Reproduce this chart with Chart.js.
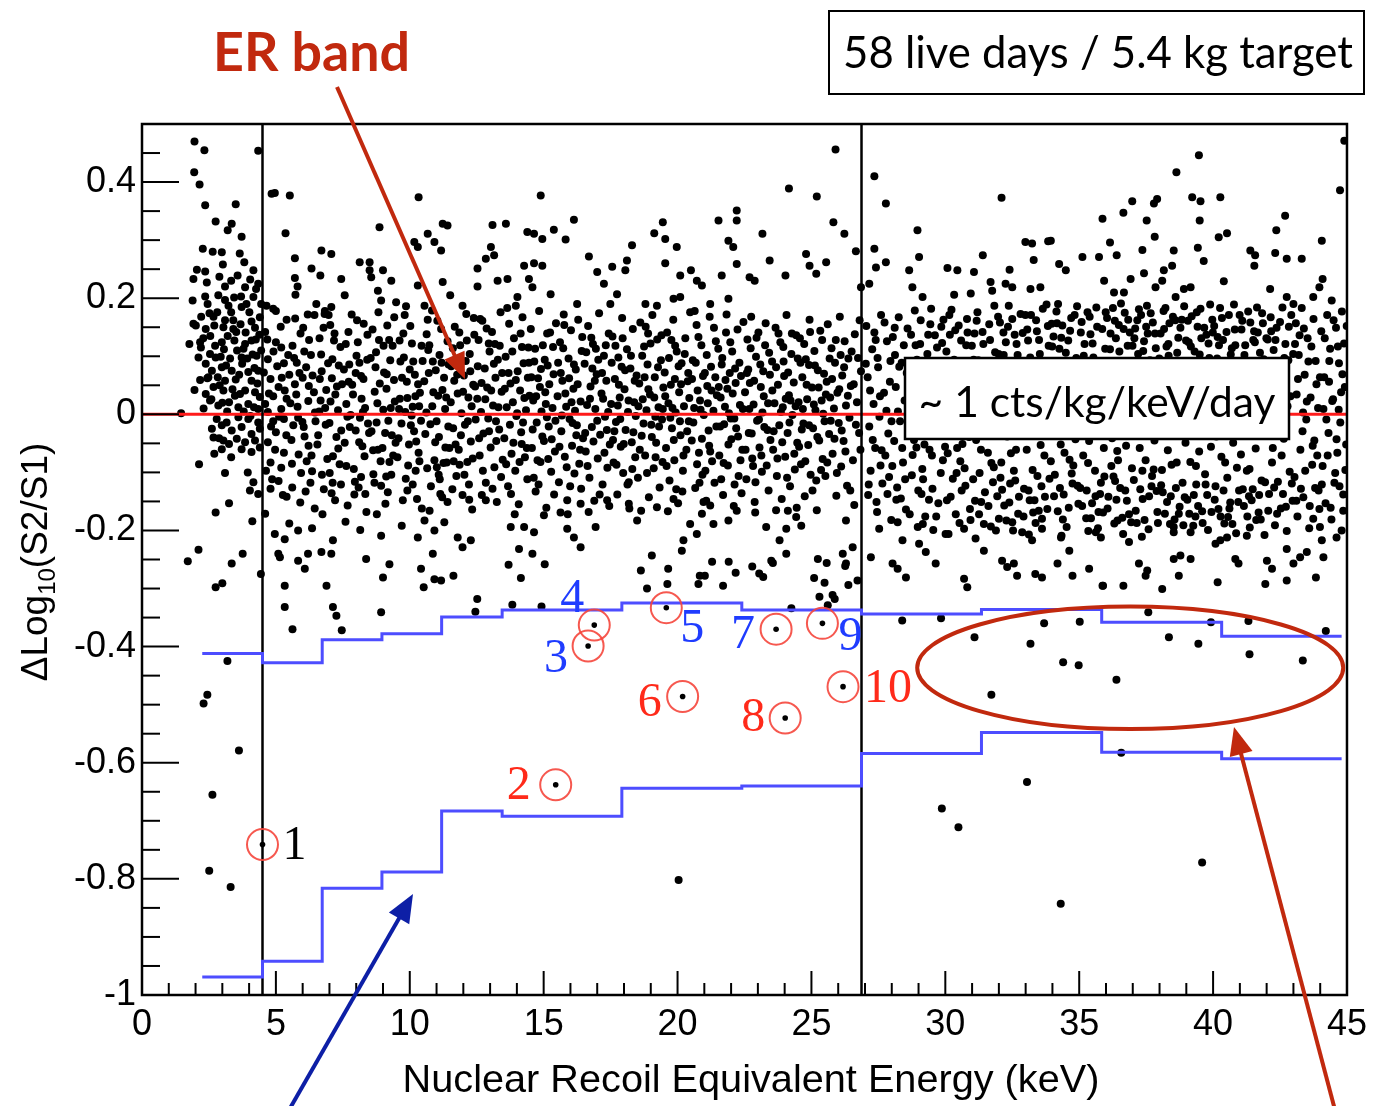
<!DOCTYPE html>
<html><head><meta charset="utf-8">
<script src="https://cdn.jsdelivr.net/npm/chart.js@4.4.1/dist/chart.umd.min.js"></script>
<style>html,body{margin:0;padding:0;background:#fff;}canvas{display:block;}</style>
</head><body>
<canvas id="c" width="1375" height="1106" style="width:1375px;height:1106px"></canvas>
<script>
// ---------------- DATA ----------------
const xTickLabels = [0,5,10,15,20,25,30,35,40,45];
const yTickLabels = [-1,-0.8,-0.6,-0.4,-0.2,0,0.2,0.4];
const thresholdEnergies = [4.5, 26.87];
const erCentroid = 0;
const binEdges = [2.25,4.5,6.73,8.96,11.19,13.45,17.92,22.4,26.87,31.35,35.84,40.32,44.8];
const upperBound = [-0.412,-0.428,-0.388,-0.378,-0.349,-0.337,-0.325,-0.337,-0.344,-0.336,-0.358,-0.382];
const lowerBound = [-0.969,-0.942,-0.816,-0.788,-0.683,-0.692,-0.644,-0.640,-0.584,-0.548,-0.582,-0.593];
const candX = [4.50,15.45,16.66,16.89,19.58,20.19,23.68,24.02,25.41,26.18];
const candY = [-0.741,-0.638,-0.399,-0.363,-0.333,-0.486,-0.370,-0.523,-0.360,-0.469];
const candLabels = ['1','2','3','4','5','6','7','8','9','10'];

const erBandLowE = [[1.46,0.002],[1.71,-0.253],[1.77,0.121],[1.89,0.196],[1.92,0.156],[1.92,0.233],[1.95,0.417],[1.96,0.470],[1.96,0.042],[2.01,0.153],[2.05,0.249],[2.11,0.098],[2.11,-0.233],[2.13,-0.086],[2.15,0.396],[2.17,0.124],[2.17,0.059],[2.20,0.115],[2.21,0.168],[2.27,0.285],[2.30,0.010],[2.33,0.455],[2.36,0.360],[2.36,0.246],[2.36,0.203],[2.38,0.147],[2.38,0.087],[2.38,0.035],[2.45,0.190],[2.48,0.064],[2.54,0.104],[2.54,0.024],[2.55,0.135],[2.61,0.075],[2.61,-0.025],[2.64,0.280],[2.67,0.168],[2.67,0.047],[2.67,-0.040],[2.70,0.153],[2.70,-0.068],[2.75,0.332],[2.75,0.098],[2.75,-0.169],[2.75,-0.298],[2.79,-0.008],[2.83,0.064],[2.85,0.015],[2.85,0.205],[2.89,0.237],[2.90,0.050],[2.98,0.279],[2.98,0.124],[2.98,0.081],[2.98,-0.019],[2.98,-0.060],[3.00,-0.291],[3.00,0.020],[3.04,0.150],[3.04,0.041],[3.04,-0.045],[3.10,0.220],[3.10,0.197],[3.10,0.162],[3.10,0.058],[3.10,-0.101],[3.16,-0.014],[3.20,0.317],[3.20,0.135],[3.25,0.021],[3.25,-0.051],[3.25,-0.153],[3.29,0.096],[3.33,0.230],[3.33,0.176],[3.33,-0.074],[3.35,0.328],[3.35,0.075],[3.35,-0.028],[3.35,-0.257],[3.41,0.162],[3.41,0.147],[3.45,0.127],[3.47,0.032],[3.50,0.362],[3.50,0.060],[3.54,-0.042],[3.55,0.110],[3.57,0.239],[3.60,0.012],[3.60,-0.005],[3.65,0.277],[3.70,0.203],[3.72,0.306],[3.72,0.185],[3.72,0.098],[3.74,0.087],[3.72,-0.022],[3.72,-0.060],[3.76,-0.240],[3.80,0.005],[3.85,0.219],[3.85,0.121],[3.85,0.041],[3.85,-0.048],[3.87,0.141],[3.90,0.190],[3.95,-0.100],[3.97,0.073],[3.97,0.018],[3.97,-0.008],[4.03,-0.131],[4.05,-0.003],[4.09,0.160],[4.09,0.127],[4.09,0.058],[4.09,-0.034],[4.09,-0.065],[4.12,-0.184],[4.16,0.248],[4.16,0.202],[4.16,-0.117],[4.20,0.080],[4.22,0.149],[4.22,0.038],[4.22,-0.045],[4.26,0.216],[4.28,0.101],[4.34,0.454],[4.34,0.225],[4.34,0.075],[4.34,0.009],[4.34,-0.014],[4.34,-0.137],[4.40,0.167],[4.40,0.030],[4.40,-0.025],[4.40,-0.057],[4.44,-0.275],[4.45,0.110],[4.45,0.190],
[2.29,0.131],[2.44,0.062],[2.52,0.174],[2.59,0.026],[2.73,0.118],[2.81,0.176],[2.94,0.099],[3.06,0.112],[3.14,0.084],[3.23,0.187],[3.38,0.043],[3.44,0.201],[3.52,0.142],[3.63,0.068],[3.68,0.155],[3.79,0.113],[3.93,0.096],[4.01,0.176],[4.13,0.103],[4.25,0.129],[4.31,0.053],[4.38,0.137],[2.88,-0.041],[3.18,0.005],[3.66,0.035],[4.18,0.012],[3.02,0.258],[3.82,0.262],[2.42,0.227],[4.04,0.232]];

const erSparseUpper = [[4.84,0.380],[4.96,0.381],[5.52,0.377],[5.36,0.312],[5.71,0.269],[5.71,0.235],[5.81,0.220],[5.73,0.206],[6.70,0.282],[7.07,0.276],[6.33,0.251],[6.66,0.239],[7.44,0.233],[7.57,0.205],[8.13,0.262],[8.50,0.262],[8.50,0.248],[8.56,0.236],[9.00,0.248],[8.87,0.322],[9.31,0.230],[8.81,0.213],[8.93,0.196],[10.33,0.374],[10.67,0.311],[10.92,0.297],[10.17,0.297],[10.30,0.288],[11.17,0.282],[11.23,0.328],[11.23,0.228],[10.30,0.222],[9.49,0.193],[9.86,0.186],[10.55,0.187],[4.65,0.187],[4.90,0.182],[6.82,0.173],[7.07,0.185],[6.51,0.190],
[14.89,0.377],[16.13,0.335],[13.09,0.326],[13.59,0.328],[14.39,0.314],[14.64,0.311],[14.95,0.302],[15.38,0.318],[15.82,0.301],[11.41,0.325],[13.03,0.288],[13.15,0.274],[12.84,0.268],[12.53,0.251],[12.53,0.220],[13.28,0.230],[13.65,0.233],[14.27,0.256],[14.64,0.260],[14.95,0.256],[14.45,0.233],[14.58,0.219],[16.69,0.272],[17.00,0.245],[17.25,0.225],[17.56,0.254],[18.11,0.265],[18.05,0.248],[18.30,0.291],[19.45,0.331],[19.13,0.312],[19.54,0.302],[19.97,0.288],[19.54,0.260],[20.10,0.239],[20.50,0.248],[20.72,0.230],[20.91,0.222],[21.53,0.334],[22.21,0.351],[22.21,0.334],[21.90,0.299],[22.08,0.288],[22.21,0.259],[21.65,0.239],[11.51,0.205],[11.97,0.187],[14.02,0.202],[13.96,0.187],[15.26,0.207],[16.25,0.190],[17.49,0.190],[17.74,0.207],[18.80,0.190],[19.23,0.187],[19.85,0.199],[20.10,0.202],[21.22,0.190],[21.90,0.199],
[25.90,0.456],[24.16,0.389],[25.20,0.375],[25.82,0.331],[26.23,0.311],[23.17,0.311],[24.80,0.276],[24.93,0.256],[25.18,0.242],[25.55,0.262],[23.44,0.265],[24.03,0.239],[22.69,0.236],[22.88,0.230],[26.66,0.281],[27.35,0.410],[27.78,0.363],[28.96,0.317],[29.02,0.271],[28.65,0.248],[30.08,0.252],[30.45,0.248],[31.07,0.245],[31.40,0.274],[32.10,0.373],[32.40,0.249],[32.99,0.297],[33.24,0.294],[33.30,0.266],[33.84,0.298],[27.35,0.285],[27.41,0.253],[27.78,0.262],[26.85,0.219],[27.16,0.225],[28.77,0.219],[29.15,0.202],[30.33,0.206],[30.95,0.208],[31.69,0.228],[31.75,0.213],[32.25,0.225],[32.50,0.219],[33.18,0.216],[33.55,0.219],
[39.47,0.446],[38.63,0.417],[39.22,0.374],[39.53,0.367],[40.27,0.374],[44.90,0.471],[44.74,0.386],[36.98,0.367],[37.79,0.363],[37.91,0.371],[36.65,0.347],[35.87,0.337],[37.52,0.334],[39.50,0.334],[37.82,0.306],[40.21,0.305],[40.52,0.312],[42.69,0.342],[42.36,0.317],[44.06,0.299],[33.94,0.299],[36.15,0.296],[36.40,0.274],[35.12,0.271],[35.74,0.271],[37.36,0.283],[38.53,0.282],[39.43,0.287],[39.65,0.264],[41.39,0.282],[41.57,0.274],[41.54,0.256],[42.32,0.278],[42.75,0.268],[43.31,0.268],[34.25,0.259],[34.50,0.248],[36.92,0.233],[37.42,0.243],[38.16,0.248],[38.47,0.256],[40.40,0.229],[44.09,0.233],[35.93,0.230],[36.30,0.210],[36.67,0.210],[37.85,0.219],[38.10,0.230],[38.60,0.202],[38.91,0.216],[39.16,0.219],[42.13,0.216],[42.75,0.202],[43.00,0.190],[43.74,0.202],[43.97,0.219],[44.43,0.196]];

const erSparseLower = [[4.96,-0.206],[5.33,-0.215],[5.83,-0.200],[5.09,-0.240],[5.15,-0.246],[6.20,-0.240],[6.70,-0.237],[7.07,-0.240],[7.13,-0.217],[6.08,-0.266],[5.83,-0.252],[8.37,-0.249],[9.24,-0.258],[10.42,-0.266],[10.86,-0.240],[8.93,-0.209],[10.30,-0.212],[10.92,-0.200],[5.33,-0.295],[6.89,-0.295],[9.00,-0.281],[10.52,-0.298],[10.92,-0.284],[5.33,-0.332],[7.13,-0.332],[7.26,-0.347],[8.93,-0.341],[5.62,-0.370],[7.46,-0.372],[5.50,-0.188],[6.35,-0.196],[7.60,-0.185],[8.15,-0.199],[9.70,-0.192],[10.55,-0.183],
[11.17,-0.286],[11.63,-0.278],[12.52,-0.318],[12.45,-0.340],[13.69,-0.259],[14.15,-0.282],[15.04,-0.258],[13.83,-0.328],[14.92,-0.331],[18.63,-0.269],[19.65,-0.266],[18.86,-0.300],[19.62,-0.292],[20.83,-0.278],[21.02,-0.278],[20.78,-0.292],[21.70,-0.295],[21.29,-0.254],[21.91,-0.254],[22.17,-0.273],[22.79,-0.262],[23.05,-0.274],[23.20,-0.280],[23.56,-0.256],[24.25,-0.334],[25.10,-0.282],[25.49,-0.290],[25.57,-0.256],[26.26,-0.261],[26.38,-0.294],[26.72,-0.286],[25.30,-0.314],[25.87,-0.318],[25.79,-0.311],[25.61,-0.329],
[13.77,-0.194],[14.27,-0.194],[14.64,-0.203],[14.08,-0.232],[14.58,-0.240],[15.88,-0.197],[16.13,-0.212],[16.38,-0.229],[16.94,-0.194],[18.49,-0.183],[19.04,-0.243],[20.16,-0.235],[20.22,-0.217],[20.47,-0.189],[20.72,-0.206],[21.34,-0.189],[21.90,-0.183],[11.29,-0.186],[11.79,-0.212],[11.97,-0.229],[12.28,-0.217],[11.41,-0.151],[12.84,-0.148],[15.01,-0.174],[15.63,-0.169],[16.38,-0.154],[17.37,-0.148],[18.18,-0.154],[19.23,-0.160],[19.85,-0.146],[20.97,-0.151],[21.22,-0.157],[22.21,-0.166],
[23.50,-0.252],[23.81,-0.217],[24.06,-0.240],[26.17,-0.240],[26.29,-0.257],[26.54,-0.229],[24.06,-0.197],[24.62,-0.192],[26.29,-0.183],[25.24,-0.249],[24.12,-0.166],[24.43,-0.177],[23.31,-0.194],
[27.22,-0.246],[27.53,-0.197],[28.22,-0.186],[28.40,-0.217],[28.03,-0.257],[28.22,-0.266],[28.53,-0.281],[29.02,-0.223],[29.27,-0.237],[29.64,-0.257],[30.70,-0.283],[30.82,-0.298],[30.01,-0.206],[30.70,-0.197],[31.13,-0.214],[31.44,-0.235],[32.12,-0.252],[32.31,-0.263],[32.56,-0.257],[32.68,-0.278],[33.36,-0.275],[33.61,-0.281],[32.00,-0.180],[32.50,-0.186],[32.87,-0.203],[33.24,-0.217],[33.49,-0.166],[33.61,-0.180],
[35.87,-0.295],[36.65,-0.295],[38.10,-0.301],[40.17,-0.289],[41.95,-0.292],[42.75,-0.286],[43.84,-0.281],[37.48,-0.278],[34.75,-0.278],[35.37,-0.266],[34.19,-0.257],[38.53,-0.249],[38.78,-0.243],[39.16,-0.249],[38.72,-0.278],[40.83,-0.249],[40.95,-0.257],[41.26,-0.209],[42.01,-0.252],[42.20,-0.266],[42.75,-0.232],[43.00,-0.257],[43.25,-0.246],[43.50,-0.237],[44.06,-0.217],[44.12,-0.246],[43.74,-0.180],[43.99,-0.194],[36.86,-0.220],[37.23,-0.257],[37.54,-0.269],[40.09,-0.223],[40.27,-0.217],[40.52,-0.212],[44.61,-0.212],[44.80,-0.200],[44.86,-0.166],[34.32,-0.212],[34.63,-0.235],[35.62,-0.203],[35.81,-0.212],[36.43,-0.183],[38.53,-0.194],[39.16,-0.203],[35.89,-0.295]];

const erCore5to12 = [[4.6,0.142],[4.7,0.095],[4.8,0.061],[4.6,0.018],[4.9,-0.012],[4.7,-0.048],[4.8,-0.083],[5.0,0.124],[5.1,0.047],[5.2,0.009],[5.0,-0.031],[5.3,-0.066],[5.1,-0.115],[5.4,0.163],[5.3,0.088],[5.4,0.027],[5.2,-0.092],[5.4,-0.142],[4.6,-0.171],[5.0,0.178],[4.9,0.031],[5.3,-0.008],[4.7,0.004],[5.5,0.068],[4.8,-0.128],[5.2,0.115],
[5.62,0.118],[5.71,0.052],[5.83,-0.006],[5.58,-0.044],[5.94,-0.101],[6.02,0.149],[6.13,0.081],[6.21,0.023],[6.04,-0.022],[6.33,-0.071],[6.11,-0.133],[6.44,0.171],[6.31,0.102],[6.42,0.038],[6.22,-0.054],[6.45,-0.162],[5.72,0.165],[5.81,0.013],[6.0,0.063],[5.91,-0.152],[6.48,-0.012],[5.6,-0.085],[6.24,0.128],[6.35,-0.098],[5.78,0.089],[6.07,-0.038],
[6.63,0.131],[6.71,0.074],[6.84,0.011],[6.58,-0.036],[6.92,-0.077],[7.03,0.154],[7.11,0.095],[7.22,0.034],[7.0,-0.015],[7.33,-0.059],[7.12,-0.118],[7.41,0.116],[7.28,0.048],[7.44,-0.028],[7.21,-0.148],[6.74,-0.172],[6.83,0.178],[6.88,0.042],[7.01,-0.101],[7.38,-0.086],[6.62,0.005],[7.19,0.139],[6.79,-0.129],[7.32,0.007],[6.69,0.103],[7.09,0.062],
[7.61,0.121],[7.72,0.056],[7.79,-0.001],[7.57,-0.049],[7.91,-0.094],[8.03,0.162],[8.12,0.089],[8.2,0.027],[7.98,-0.028],[8.31,-0.072],[8.09,-0.126],[8.42,0.137],[8.27,0.061],[8.44,-0.016],[8.18,-0.108],[7.68,-0.157],[7.83,0.172],[7.88,0.034],[8.01,0.101],[8.38,-0.168],[7.63,0.018],[8.23,-0.055],[7.74,0.086],[8.33,0.011],[7.93,-0.138],[8.14,-0.006],
[8.61,0.146],[8.72,0.081],[8.79,0.019],[8.57,-0.029],[8.91,-0.081],[9.02,0.118],[9.13,0.044],[9.2,-0.011],[8.98,-0.058],[9.31,-0.104],[9.09,-0.154],[9.42,0.167],[9.27,0.093],[9.44,0.022],[9.18,-0.134],[8.68,-0.118],[8.83,0.176],[8.88,0.053],[9.01,0.008],[9.38,-0.071],[8.63,-0.062],[9.23,0.128],[8.74,0.107],[9.33,-0.036],[8.77,-0.172],[9.14,0.069],
[9.62,0.127],[9.71,0.063],[9.83,0.004],[9.58,-0.041],[9.94,-0.088],[10.02,0.152],[10.13,0.091],[10.21,0.031],[10.04,-0.019],[10.33,-0.066],[10.11,-0.121],[10.44,0.118],[10.31,0.052],[10.42,-0.011],[10.22,-0.097],[9.74,-0.148],[9.81,0.171],[9.91,0.028],[10.0,0.077],[10.45,-0.162],[9.6,0.009],[10.24,-0.047],[9.78,0.098],[10.35,0.014],[9.91,-0.131],[10.07,-0.002],
[10.63,0.138],[10.71,0.071],[10.84,0.014],[10.58,-0.034],[10.92,-0.079],[11.03,0.161],[11.11,0.102],[11.22,0.042],[11.0,-0.012],[11.33,-0.057],[11.12,-0.112],[11.41,0.126],[11.28,0.063],[11.44,-0.021],[11.21,-0.143],[10.74,-0.166],[10.83,0.179],[10.88,0.038],[11.01,-0.091],[11.38,-0.083],[10.62,0.003],[11.19,0.089],[10.79,-0.124],[11.32,0.009],[10.69,0.111],[11.09,-0.039],
[4.55,0.072],[4.63,-0.097],[4.74,0.036],[4.82,-0.021],[4.91,0.108],[4.97,-0.061],[5.05,0.083],[5.12,-0.004],[5.18,0.151],[5.26,-0.139],[5.33,0.041],[5.39,-0.036],[5.46,0.102],[4.68,0.129],[5.22,0.063],[4.86,-0.112],
[5.54,0.019],[5.61,-0.126],[5.68,0.097],[5.76,0.034],[5.85,-0.069],[5.92,0.139],[5.99,-0.013],[6.06,0.108],[6.15,-0.081],[6.23,0.049],[6.29,-0.118],[6.37,0.067],[6.46,0.003],[5.65,-0.019],[6.19,0.172],[5.88,0.071],
[6.55,-0.052],[6.64,0.061],[6.72,-0.104],[6.78,0.149],[6.86,-0.018],[6.95,0.088],[7.04,0.022],[7.13,-0.072],[7.17,0.127],[7.26,-0.039],[7.35,0.084],[7.43,-0.121],[7.47,0.052],[6.67,0.024],[7.08,-0.136],[6.97,0.171],
[7.54,0.077],[7.63,-0.089],[7.71,0.142],[7.76,-0.022],[7.85,0.051],[7.95,-0.116],[8.06,0.124],[8.11,-0.048],[8.18,0.066],[8.25,0.004],[8.34,-0.137],[8.41,0.094],[8.48,-0.032],[7.67,-0.004],[8.28,0.156],[7.98,0.071],
[8.54,0.097],[8.64,-0.103],[8.69,0.039],[8.76,-0.014],[8.85,0.128],[8.93,-0.123],[9.04,0.072],[9.08,-0.032],[9.16,0.153],[9.24,-0.082],[9.29,0.011],[9.36,0.118],[9.47,-0.049],[8.81,-0.061],[9.12,-0.107],[9.41,0.059],
[9.54,-0.074],[9.65,0.091],[9.69,-0.016],[9.76,0.139],[9.85,-0.111],[9.89,0.056],[9.97,-0.052],[10.08,0.122],[10.16,-0.029],[10.19,0.068],[10.27,-0.146],[10.38,0.037],[10.48,0.092],[9.63,0.027],[10.11,0.013],[10.36,-0.081],
[10.54,0.057],[10.65,-0.093],[10.73,0.119],[10.77,-0.017],[10.86,0.091],[10.95,-0.048],[11.06,0.032],[11.14,-0.137],[11.17,0.147],[11.26,-0.084],[11.36,0.029],[11.45,0.086],[11.48,-0.058],[10.67,0.163],[11.08,-0.104],[10.97,0.076]];

const erCore12to20 = [[11.55,0.083],[11.62,-0.024],[11.68,0.151],[11.74,-0.106],[11.79,0.036],[11.83,-0.061],[11.88,0.119],[11.93,0.002],[11.97,-0.139],[12.02,0.067],[12.06,-0.018],[12.11,0.173],[12.15,-0.082],[12.19,0.029],[12.24,0.104],[12.28,-0.047],[12.33,-0.164],[12.37,0.051],[12.41,0.137],[12.46,-0.009],[11.66,0.058],[11.86,-0.087],[12.09,0.092],[12.31,0.014],[11.59,-0.129],[12.21,-0.121],
[12.52,0.027],[12.57,0.128],[12.61,-0.071],[12.66,0.004],[12.71,0.161],[12.75,-0.033],[12.8,0.079],[12.84,-0.118],[12.89,0.046],[12.93,-0.007],[12.98,0.108],[13.02,-0.057],[13.07,0.142],[13.11,0.015],[13.16,-0.091],[13.2,0.063],[13.25,-0.151],[13.29,0.094],[13.34,-0.026],[13.39,0.176],[13.43,0.039],[13.47,-0.078],[12.69,-0.139],[12.95,0.122],[13.22,-0.012],[13.36,0.118],
[13.53,-0.041],[13.58,0.099],[13.62,0.012],[13.67,-0.124],[13.71,0.156],[13.76,0.053],[13.8,-0.068],[13.85,0.021],[13.89,0.131],[13.94,-0.097],[13.98,-0.003],[14.03,0.074],[14.07,-0.155],[14.12,0.041],[14.16,-0.031],[14.21,0.167],[14.25,0.088],[14.3,-0.074],[14.34,0.007],[14.39,-0.112],[14.43,0.115],[14.47,0.032],[13.64,0.183],[13.92,-0.172],[14.18,-0.051],[14.41,0.063],
[14.52,0.147],[14.56,-0.058],[14.61,0.024],[14.65,0.091],[14.7,-0.133],[14.74,-0.014],[14.79,0.062],[14.83,0.178],[14.88,-0.082],[14.92,0.005],[14.97,0.119],[15.01,-0.046],[15.06,0.038],[15.1,-0.161],[15.15,0.084],[15.19,-0.021],[15.24,0.141],[15.28,-0.099],[15.33,0.011],[15.37,0.069],[15.42,-0.064],[15.46,0.157],[14.63,-0.109],[14.86,0.047],[15.12,-0.005],[15.39,-0.138],
[15.52,0.031],[15.57,-0.117],[15.61,0.124],[15.66,-0.029],[15.7,0.058],[15.75,0.172],[15.79,-0.073],[15.84,0.013],[15.88,-0.148],[15.93,0.096],[15.97,-0.008],[16.02,0.145],[16.06,-0.054],[16.11,0.044],[16.15,-0.102],[16.2,0.077],[16.24,-0.019],[16.29,0.163],[16.33,-0.085],[16.38,0.022],[16.42,0.109],[16.47,-0.041],[15.64,0.071],[15.9,-0.172],[16.17,0.006],[16.4,-0.128],
[16.53,0.087],[16.57,-0.064],[16.62,0.016],[16.66,0.152],[16.71,-0.109],[16.75,0.048],[16.8,-0.022],[16.84,0.121],[16.89,-0.149],[16.93,0.009],[16.98,0.069],[17.02,-0.076],[17.07,0.174],[17.11,-0.035],[17.16,0.036],[17.2,-0.121],[17.25,0.101],[17.29,-0.004],[17.34,0.058],[17.38,-0.092],[17.43,0.139],[17.47,-0.052],[16.68,-0.168],[16.95,0.113],[17.22,0.027],[17.45,-0.158],
[17.52,0.018],[17.57,0.134],[17.61,-0.083],[17.66,0.061],[17.7,-0.013],[17.75,-0.138],[17.79,0.098],[17.84,0.029],[17.88,-0.056],[17.93,0.166],[17.97,-0.101],[18.02,0.043],[18.06,-0.027],[18.11,0.112],[18.15,0.004],[18.2,-0.162],[18.24,0.079],[18.29,-0.048],[18.33,0.147],[18.38,0.021],[18.42,-0.074],[18.47,0.067],[17.64,-0.029],[17.91,0.082],[18.18,-0.117],[18.44,-0.003],
[18.52,-0.109],[18.57,0.053],[18.61,0.158],[18.66,-0.037],[18.7,0.026],[18.75,0.117],[18.79,-0.071],[18.84,0.007],[18.88,0.086],[18.93,-0.143],[18.97,0.034],[19.02,-0.018],[19.06,0.171],[19.11,-0.093],[19.15,0.064],[19.2,-0.049],[19.24,0.129],[19.29,0.012],[19.33,-0.126],[19.38,0.093],[19.42,-0.009],[19.47,0.046],[18.64,-0.166],[18.9,0.139],[19.17,-0.004],[19.44,-0.082],
[11.53,0.021],[11.61,0.114],[11.71,-0.052],[11.77,0.068],[11.85,0.141],[11.91,-0.036],[11.99,0.039],[12.04,-0.104],[12.13,0.127],[12.17,-0.012],[12.26,0.074],[12.35,-0.076],[12.44,0.048],[11.64,-0.081],[12.22,-0.147],[12.39,0.166],
[12.54,0.083],[12.59,-0.041],[12.68,0.054],[12.73,-0.097],[12.82,0.026],[12.87,0.148],[12.96,-0.029],[13.04,0.041],[13.09,-0.128],[13.14,0.087],[13.23,-0.046],[13.31,0.012],[13.41,-0.108],[12.63,0.164],[13.18,0.121],[13.45,0.071],
[13.55,0.044],[13.6,-0.086],[13.69,0.071],[13.74,-0.018],[13.83,0.108],[13.87,-0.049],[13.96,0.059],[14.01,0.002],[14.1,-0.082],[14.14,0.139],[14.23,-0.014],[14.28,0.028],[14.37,-0.058],[14.45,0.089],[13.78,-0.137],[14.19,0.116],
[14.54,0.064],[14.59,-0.026],[14.68,0.113],[14.72,0.031],[14.81,-0.121],[14.9,0.078],[14.95,-0.038],[15.04,0.094],[15.08,0.018],[15.17,-0.077],[15.21,0.052],[15.3,-0.043],[15.35,0.116],[15.44,-0.011],[14.77,-0.079],[15.13,0.139],
[15.54,0.089],[15.59,-0.056],[15.68,-0.002],[15.73,0.114],[15.81,0.036],[15.86,-0.091],[15.95,0.062],[15.99,-0.124],[16.04,0.021],[16.13,0.086],[16.22,-0.036],[16.27,0.052],[16.36,-0.061],[16.44,0.133],[15.77,0.154],[16.08,-0.015],
[16.55,-0.032],[16.59,0.107],[16.64,-0.089],[16.73,0.027],[16.78,0.132],[16.86,-0.047],[16.91,0.058],[17.0,-0.011],[17.04,0.094],[17.09,-0.138],[17.18,0.071],[17.27,-0.066],[17.32,0.119],[17.41,0.004],[16.82,0.079],[17.36,-0.027],
[17.54,0.089],[17.59,-0.044],[17.68,0.118],[17.72,-0.087],[17.81,0.051],[17.86,-0.008],[17.95,0.131],[17.99,-0.051],[18.04,0.076],[18.13,-0.121],[18.17,0.024],[18.26,0.101],[18.35,-0.031],[18.4,0.058],[17.77,0.015],[18.31,-0.094],
[18.54,0.014],[18.59,-0.061],[18.68,0.101],[18.73,-0.016],[18.77,0.064],[18.86,-0.101],[18.91,0.043],[18.99,0.122],[19.04,-0.039],[19.13,0.029],[19.18,-0.074],[19.27,0.081],[19.31,-0.021],[19.4,0.136],[19.45,0.009],[18.81,0.151]];

const erCore20to27 = [[19.52,0.072],[19.57,-0.058],[19.61,0.141],[19.66,0.019],[19.7,-0.114],[19.75,0.051],[19.79,-0.024],[19.84,0.163],[19.88,-0.079],[19.93,0.003],[19.97,0.108],[20.02,-0.153],[20.06,0.038],[20.11,-0.036],[20.15,0.088],[20.2,-0.097],[20.24,0.014],[20.29,0.131],[20.33,-0.061],[20.38,0.057],[20.42,-0.012],[20.47,0.176],[19.64,-0.167],[19.91,0.118],[20.18,-0.133],[20.44,0.028],
[20.53,-0.045],[20.57,0.093],[20.62,0.011],[20.66,-0.127],[20.71,0.154],[20.75,0.041],[20.8,-0.066],[20.84,0.024],[20.89,0.119],[20.93,-0.104],[20.98,-0.001],[21.02,0.071],[21.07,-0.149],[21.11,0.049],[21.16,-0.028],[21.2,0.168],[21.25,0.082],[21.29,-0.081],[21.34,0.006],[21.38,-0.118],[21.43,0.126],[21.47,0.033],[20.64,0.178],[20.91,-0.171],[21.18,-0.054],[21.41,0.064],
[21.52,0.113],[21.56,-0.071],[21.61,0.029],[21.65,0.086],[21.7,-0.139],[21.74,-0.017],[21.79,0.059],[21.83,0.172],[21.88,-0.088],[21.92,0.002],[21.97,0.124],[22.01,-0.043],[22.06,0.036],[22.1,-0.158],[22.15,0.079],[22.19,-0.024],[22.24,0.146],[22.28,-0.106],[22.33,0.016],[22.37,0.066],[22.42,-0.061],[22.46,0.159],[21.63,-0.112],[21.86,0.044],[22.12,-0.007],[22.39,-0.136],
[22.52,0.038],[22.57,-0.112],[22.61,0.129],[22.66,-0.032],[22.7,0.054],[22.75,0.168],[22.79,-0.076],[22.84,0.017],[22.88,-0.151],[22.93,0.099],[22.97,-0.011],[23.02,0.141],[23.06,-0.057],[23.11,0.047],[23.15,-0.099],[23.2,0.074],[23.24,-0.022],[23.29,0.157],[23.33,-0.088],[23.38,0.019],[23.42,0.106],[23.47,-0.044],[22.64,0.077],[22.9,-0.169],[23.17,0.003],[23.4,-0.131],
[23.53,0.091],[23.57,-0.061],[23.62,0.019],[23.66,0.149],[23.71,-0.106],[23.75,0.051],[23.8,-0.019],[23.84,0.124],[23.89,-0.146],[23.93,0.012],[23.98,0.066],[24.02,-0.073],[24.07,0.171],[24.11,-0.032],[24.16,0.033],[24.2,-0.124],[24.25,0.104],[24.29,-0.001],[24.34,0.055],[24.38,-0.095],[24.43,0.136],[24.47,-0.049],[23.68,-0.165],[23.95,0.116],[24.22,0.024],[24.45,-0.161],
[24.52,0.021],[24.57,0.131],[24.61,-0.086],[24.66,0.064],[24.7,-0.016],[24.75,-0.141],[24.79,0.095],[24.84,0.026],[24.88,-0.053],[24.93,0.163],[24.97,-0.104],[25.02,0.046],[25.06,-0.024],[25.11,0.109],[25.15,0.007],[25.2,-0.165],[25.24,0.076],[25.29,-0.045],[25.33,0.144],[25.38,0.024],[25.42,-0.077],[25.47,0.07],[24.64,-0.026],[24.91,0.085],[25.18,-0.114],[25.44,0.001],
[25.52,-0.106],[25.57,0.056],[25.61,0.155],[25.66,-0.034],[25.7,0.029],[25.75,0.114],[25.79,-0.068],[25.84,0.01],[25.88,0.089],[25.93,-0.14],[25.97,0.037],[26.02,-0.015],[26.06,0.168],[26.11,-0.09],[26.15,0.067],[26.2,-0.046],[26.24,0.126],[26.29,0.015],[26.33,-0.123],[26.38,0.096],[26.42,-0.006],[26.47,0.049],[26.55,-0.079],[26.62,0.138],[26.7,0.021],[26.78,-0.032],[26.85,0.074],[26.6,-0.156],[26.8,0.162],[26.5,0.108],
[19.54,0.031],[19.59,-0.089],[19.68,0.097],[19.73,-0.006],[19.77,0.128],[19.86,-0.044],[19.9,0.061],[19.95,-0.129],[20.04,0.083],[20.09,-0.012],[20.13,0.052],[20.22,-0.071],[20.27,0.104],[20.36,-0.029],[20.4,0.071],[19.81,0.011],
[20.54,0.061],[20.59,-0.014],[20.68,0.089],[20.73,-0.086],[20.78,0.133],[20.86,0.008],[20.91,-0.042],[20.95,0.066],[21.04,-0.097],[21.09,0.102],[21.13,0.019],[21.22,-0.064],[21.27,0.041],[21.36,0.149],[21.45,-0.021],[20.82,-0.118],
[21.54,0.047],[21.59,-0.021],[21.67,0.097],[21.72,-0.084],[21.77,0.013],[21.81,0.141],[21.9,-0.052],[21.95,0.071],[21.99,-0.007],[22.04,0.108],[22.13,-0.121],[22.17,0.054],[22.26,-0.038],[22.31,0.089],[22.44,0.009],[22.35,-0.079],
[22.54,-0.061],[22.59,0.071],[22.68,0.009],[22.73,0.114],[22.77,-0.033],[22.86,0.058],[22.91,-0.117],[22.95,0.132],[23.04,-0.009],[23.09,0.086],[23.13,-0.071],[23.22,0.031],[23.27,0.119],[23.36,-0.027],[23.45,0.068],[22.82,-0.089],
[23.54,0.041],[23.59,-0.029],[23.68,0.081],[23.73,-0.076],[23.77,0.139],[23.86,0.004],[23.91,-0.048],[23.96,0.091],[24.04,0.027],[24.09,-0.109],[24.13,0.072],[24.18,-0.014],[24.27,0.139],[24.36,-0.068],[24.41,0.014],[24.49,0.096],
[24.54,-0.056],[24.59,0.089],[24.68,0.009],[24.73,0.121],[24.77,-0.081],[24.82,0.051],[24.91,-0.019],[24.95,0.142],[25.04,-0.131],[25.09,0.017],[25.13,0.084],[25.22,-0.039],[25.27,0.046],[25.36,-0.096],[25.4,0.128],[25.49,-0.012],
[25.54,0.034],[25.59,-0.083],[25.68,0.096],[25.72,-0.011],[25.77,0.061],[25.86,-0.042],[25.91,0.128],[25.95,-0.101],[26.04,0.043],[26.09,0.102],[26.13,-0.028],[26.22,0.081],[26.27,-0.064],[26.36,0.032],[26.45,-0.131],[26.58,0.052],[26.66,-0.018],[26.74,0.097],[26.83,-0.061]];

const erCore27to36 = [[27.05,0.152],[27.1,0.064],[27.16,-0.021],[27.21,-0.097],[27.27,0.112],[27.32,0.018],[27.38,-0.058],[27.43,-0.151],[27.49,0.081],[27.54,-0.004],[27.6,0.171],[27.65,-0.119],[27.71,0.037],[27.76,-0.071],[27.82,0.126],[27.87,-0.033],[27.93,0.056],[27.98,-0.182],[27.12,-0.139],[27.35,0.141],[27.58,-0.088],[27.8,0.006],[27.47,0.097],[27.9,-0.108],
[28.04,0.133],[28.09,-0.046],[28.15,0.047],[28.2,-0.126],[28.26,0.167],[28.31,-0.012],[28.37,0.089],[28.42,-0.083],[28.48,0.024],[28.53,-0.164],[28.59,0.148],[28.64,-0.031],[28.7,0.068],[28.75,-0.105],[28.81,0.011],[28.86,0.179],[28.92,-0.057],[28.97,-0.194],[28.12,0.102],[28.34,-0.145],[28.56,0.071],[28.78,-0.07],[28.23,0.005],[28.89,0.119],
[29.03,-0.016],[29.08,0.162],[29.14,-0.094],[29.19,0.073],[29.25,-0.176],[29.3,0.029],[29.36,0.137],[29.41,-0.061],[29.47,0.182],[29.52,-0.128],[29.58,0.044],[29.63,-0.037],[29.69,0.115],[29.74,-0.153],[29.8,-0.008],[29.85,0.151],[29.91,-0.079],[29.96,0.062],[29.11,-0.137],[29.33,0.104],[29.55,-0.199],[29.77,0.022],[29.22,-0.052],[29.88,0.123],
[30.04,0.108],[30.09,-0.067],[30.15,0.171],[30.2,-0.142],[30.26,0.053],[30.31,-0.025],[30.37,0.145],[30.42,-0.101],[30.48,0.014],[30.53,-0.187],[30.59,0.127],[30.64,-0.051],[30.7,0.063],[30.75,-0.123],[30.81,0.164],[30.86,-0.006],[30.92,-0.163],[30.97,0.084],[30.12,-0.206],[30.34,0.026],[30.56,-0.081],[30.78,0.119],[30.23,0.18],[30.89,-0.039],
[31.04,-0.112],[31.09,0.139],[31.15,-0.044],[31.2,0.176],[31.26,-0.172],[31.31,0.058],[31.37,-0.019],[31.42,0.121],[31.48,-0.134],[31.53,0.086],[31.59,-0.066],[31.64,0.155],[31.7,-0.193],[31.75,0.033],[31.81,-0.091],[31.86,0.107],[31.92,-0.029],[31.97,0.168],[31.12,0.007],[31.34,-0.151],[31.56,0.041],[31.78,-0.117],[31.23,0.093],[31.89,-0.2],
[32.04,0.158],[32.09,-0.083],[32.15,0.069],[32.2,-0.157],[32.26,0.124],[32.31,-0.038],[32.37,0.187],[32.42,-0.119],[32.48,0.046],[32.53,-0.2],[32.59,0.137],[32.64,-0.061],[32.7,0.102],[32.75,-0.142],[32.81,0.173],[32.86,-0.024],[32.92,-0.176],[32.97,0.081],[32.12,-0.13],[32.34,0.151],[32.56,-0.097],[32.78,0.018],[32.23,0.003],[32.89,0.14],
[33.04,-0.061],[33.09,0.127],[33.15,-0.148],[33.2,0.171],[33.26,-0.096],[33.31,0.062],[33.37,-0.187],[33.42,0.143],[33.48,-0.034],[33.53,0.104],[33.59,-0.124],[33.64,0.182],[33.7,-0.071],[33.75,0.036],[33.81,-0.163],[33.86,0.118],[33.92,-0.012],[33.97,0.156],[33.12,-0.207],[33.34,0.009],[33.56,-0.053],[33.78,0.189],[33.23,0.092],[33.89,-0.111],
[34.04,0.134],[34.09,-0.104],[34.15,0.177],[34.2,-0.167],[34.26,0.113],[34.31,-0.052],[34.37,0.153],[34.42,-0.138],[34.48,0.079],[34.53,-0.194],[34.59,0.127],[34.64,-0.078],[34.7,0.166],[34.75,-0.119],[34.81,0.041],[34.86,-0.043],[34.92,0.186],[34.97,-0.154],[34.12,0.004],[34.34,-0.209],[34.56,0.061],[34.78,-0.088],[34.23,0.028],[34.89,0.097],
[35.04,-0.127],[35.09,0.159],[35.15,-0.071],[35.2,0.121],[35.26,-0.179],[35.31,0.176],[35.37,-0.046],[35.42,0.138],[35.48,-0.153],[35.53,0.098],[35.59,-0.097],[35.64,0.184],[35.7,-0.196],[35.75,0.064],[35.81,-0.118],[35.86,0.147],[35.92,-0.058],[35.97,0.113],[35.12,0.021],[35.34,-0.201],[35.56,0.045],[35.78,-0.137],[35.23,0.082],[35.89,-0.169],
[27.03,0.087],[27.14,-0.121],[27.19,0.041],[27.29,-0.044],[27.4,0.128],[27.45,-0.168],[27.56,0.031],[27.62,-0.062],[27.73,0.158],[27.84,-0.137],[27.95,0.092],[27.99,-0.012],
[28.02,-0.089],[28.11,0.149],[28.17,-0.147],[28.28,0.082],[28.39,-0.058],[28.45,0.119],[28.5,-0.112],[28.61,0.058],[28.67,-0.172],[28.72,0.137],[28.83,-0.044],[28.94,0.094],[28.99,-0.131],
[29.06,0.121],[29.17,-0.112],[29.28,0.092],[29.39,-0.147],[29.44,0.155],[29.5,-0.071],[29.61,0.136],[29.66,-0.176],[29.72,0.081],[29.83,-0.101],[29.93,0.163],[29.99,-0.056],[29.16,-0.189],[29.49,0.06],
[30.06,-0.148],[30.17,0.137],[30.28,-0.111],[30.33,0.094],[30.39,-0.172],[30.5,0.153],[30.61,-0.131],[30.66,0.076],[30.72,-0.093],[30.83,0.141],[30.94,-0.182],[30.99,0.118],[30.44,-0.058],[30.18,0.052],
[31.06,0.094],[31.11,-0.149],[31.17,0.161],[31.28,-0.101],[31.39,0.142],[31.44,-0.189],[31.5,0.071],[31.61,-0.158],[31.67,0.128],[31.72,-0.084],[31.83,0.187],[31.94,-0.141],[31.99,0.104],[31.33,-0.061],
[32.06,-0.109],[32.17,0.141],[32.28,-0.183],[32.33,0.083],[32.39,-0.152],[32.5,0.164],[32.61,-0.114],[32.66,0.121],[32.72,-0.171],[32.83,0.057],[32.94,-0.128],[32.99,0.171],[32.45,-0.067],[32.18,0.102],
[33.06,0.146],[33.11,-0.131],[33.17,0.098],[33.28,-0.169],[33.39,0.162],[33.44,-0.106],[33.5,0.128],[33.61,-0.197],[33.67,0.071],[33.72,-0.142],[33.83,0.152],[33.94,-0.081],[33.99,0.117],[33.33,-0.148],
[34.06,-0.141],[34.17,0.157],[34.28,-0.127],[34.33,0.132],[34.39,-0.181],[34.5,0.106],[34.61,-0.161],[34.66,0.144],[34.72,-0.102],[34.83,0.171],[34.94,-0.123],[34.99,0.081],[34.45,-0.066],[34.21,0.19],
[35.06,0.141],[35.11,-0.158],[35.17,0.101],[35.28,-0.131],[35.39,0.168],[35.44,-0.179],[35.5,0.122],[35.61,-0.141],[35.67,0.151],[35.72,-0.168],[35.83,0.087],[35.94,-0.107],[35.99,0.176],[35.33,-0.084]];

const erCore36to45 = [[36.04,0.166],[36.09,-0.142],[36.15,0.112],[36.2,-0.089],[36.26,0.183],[36.31,-0.188],[36.37,0.131],[36.42,-0.063],[36.48,0.154],[36.53,-0.127],[36.59,0.089],[36.64,-0.206],[36.7,0.175],[36.75,-0.054],[36.81,0.118],[36.86,-0.172],[36.92,0.052],[36.97,-0.093],[36.12,0.072],[36.34,-0.115],[36.56,0.191],[36.78,-0.149],[36.23,-0.041],[36.89,0.141],
[37.04,-0.113],[37.09,0.148],[37.15,-0.187],[37.2,0.104],[37.26,-0.058],[37.31,0.171],[37.37,-0.146],[37.42,0.126],[37.48,-0.079],[37.53,0.187],[37.59,-0.198],[37.64,0.093],[37.7,-0.124],[37.75,0.158],[37.81,-0.045],[37.86,0.114],[37.92,-0.168],[37.97,0.068],[37.12,0.049],[37.34,-0.211],[37.56,0.139],[37.78,-0.095],[37.23,0.181],[37.89,-0.132],
[38.04,0.139],[38.09,-0.096],[38.15,0.178],[38.2,-0.171],[38.26,0.117],[38.31,-0.062],[38.37,0.157],[38.42,-0.141],[38.48,0.086],[38.53,-0.203],[38.59,0.162],[38.64,-0.083],[38.7,0.132],[38.75,-0.159],[38.81,0.058],[38.86,-0.118],[38.92,0.186],[38.97,-0.049],[38.12,-0.134],[38.34,0.101],[38.56,-0.181],[38.78,0.149],[38.23,0.063],[38.89,-0.191],
[39.04,-0.147],[39.09,0.124],[39.15,-0.082],[39.2,0.169],[39.26,-0.192],[39.31,0.108],[39.37,-0.121],[39.42,0.151],[39.48,-0.064],[39.53,0.182],[39.59,-0.167],[39.64,0.076],[39.7,-0.103],[39.75,0.137],[39.81,-0.199],[39.86,0.097],[39.92,-0.056],[39.97,0.163],[39.12,0.058],[39.34,-0.176],[39.56,0.131],[39.78,-0.139],[39.23,-0.031],[39.89,0.189],
[40.04,0.152],[40.09,-0.124],[40.15,0.096],[40.2,-0.163],[40.26,0.183],[40.31,-0.073],[40.37,0.128],[40.42,-0.188],[40.48,0.067],[40.53,-0.109],[40.59,0.171],[40.64,-0.152],[40.7,0.114],[40.75,-0.049],[40.81,0.146],[40.86,-0.205],[40.92,0.081],[40.97,-0.131],[40.12,-0.038],[40.34,0.059],[40.56,-0.177],[40.78,0.189],[40.23,0.007],[40.89,-0.092],
[41.04,-0.069],[41.09,0.161],[41.15,-0.158],[41.2,0.119],[41.26,-0.097],[41.31,0.177],[41.37,-0.195],[41.42,0.088],[41.48,-0.129],[41.53,0.143],[41.59,-0.059],[41.64,0.184],[41.7,-0.169],[41.75,0.106],[41.81,-0.114],[41.86,0.157],[41.92,-0.208],[41.97,0.072],[41.12,0.038],[41.34,-0.141],[41.56,0.124],[41.78,-0.181],[41.23,-0.022],[41.89,0.095],
[42.04,0.129],[42.09,-0.137],[42.15,0.167],[42.2,-0.083],[42.26,0.111],[42.31,-0.191],[42.37,0.149],[42.42,-0.116],[42.48,0.078],[42.53,-0.162],[42.59,0.184],[42.64,-0.042],[42.7,0.121],[42.75,-0.201],[42.81,0.093],[42.86,-0.099],[42.92,0.171],[42.97,-0.149],[42.12,-0.024],[42.34,0.046],[42.56,-0.071],[42.78,0.014],[42.23,-0.058],[42.89,0.031],
[43.04,-0.108],[43.09,0.157],[43.15,-0.176],[43.2,0.102],[43.26,-0.061],[43.31,0.183],[43.37,-0.143],[43.42,0.068],[43.48,-0.009],[43.53,0.131],[43.59,-0.196],[43.64,0.029],[43.7,-0.087],[43.75,0.164],[43.81,-0.127],[43.86,0.052],[43.92,0.011],[43.97,-0.163],[43.12,0.034],[43.34,-0.029],[43.56,0.091],[43.78,-0.045],[43.23,0.136],[43.89,-0.071],
[44.04,0.143],[44.09,-0.089],[44.15,0.064],[44.2,-0.153],[44.26,0.171],[44.31,-0.032],[44.37,0.113],[44.42,-0.181],[44.48,0.026],[44.53,-0.118],[44.59,0.149],[44.64,-0.066],[44.7,0.088],[44.75,-0.014],[44.81,0.177],[44.86,-0.138],[44.92,0.047],[44.97,-0.052],[44.12,0.009],[44.34,0.092],[44.56,-0.101],[44.78,0.038],[44.23,-0.009],[44.89,0.122],
[36.06,-0.162],[36.17,0.139],[36.28,-0.107],[36.33,0.161],[36.39,-0.147],[36.5,0.108],[36.61,-0.178],[36.66,0.147],[36.72,-0.131],[36.83,0.163],[36.94,-0.186],[36.99,0.118],[36.45,-0.079],[36.25,0.083],
[37.06,0.131],[37.11,-0.166],[37.17,0.162],[37.28,-0.129],[37.39,0.109],[37.44,-0.182],[37.5,0.151],[37.61,-0.141],[37.67,0.174],[37.72,-0.106],[37.83,0.139],[37.94,-0.187],[37.99,0.096],[37.36,-0.097],
[38.06,-0.122],[38.17,0.147],[38.28,-0.151],[38.33,0.121],[38.39,-0.189],[38.5,0.168],[38.61,-0.127],[38.66,0.106],[38.72,-0.171],[38.83,0.163],[38.94,-0.143],[38.99,0.127],[38.45,-0.087],[38.22,0.183],
[39.06,0.161],[39.11,-0.171],[39.17,0.117],[39.28,-0.139],[39.39,0.176],[39.44,-0.158],[39.5,0.103],[39.61,-0.187],[39.67,0.149],[39.72,-0.121],[39.83,0.122],[39.94,-0.168],[39.99,0.141],[39.36,-0.089],
[40.06,-0.147],[40.17,0.133],[40.28,-0.176],[40.33,0.166],[40.39,-0.131],[40.5,0.142],[40.61,-0.162],[40.66,0.103],[40.72,-0.189],[40.83,0.119],[40.94,-0.151],[40.99,0.171],[40.45,-0.083],[40.22,0.119],
[41.06,0.146],[41.11,-0.129],[41.17,0.102],[41.28,-0.176],[41.39,0.158],[41.44,-0.148],[41.5,0.128],[41.61,-0.182],[41.67,0.141],[41.72,-0.139],[41.83,0.174],[41.94,-0.117],[41.99,0.131],[41.36,-0.094],
[42.06,-0.166],[42.17,0.143],[42.28,-0.126],[42.33,0.128],[42.39,-0.171],[42.5,0.159],[42.61,-0.137],[42.66,0.097],[42.72,-0.159],[42.83,0.151],[42.94,-0.119],[42.99,0.104],[42.45,0.007],[42.68,-0.021],[42.21,0.054],
[43.06,0.121],[43.11,-0.149],[43.17,0.061],[43.28,-0.128],[43.39,0.148],[43.44,-0.097],[43.5,0.022],[43.61,-0.158],[43.67,0.117],[43.72,-0.054],[43.83,0.092],[43.94,-0.131],[43.99,0.064],[43.36,0.003],
[44.06,-0.121],[44.17,0.131],[44.28,-0.071],[44.33,0.056],[44.39,-0.161],[44.5,0.162],[44.61,-0.043],[44.66,0.117],[44.72,-0.124],[44.83,0.069],[44.94,-0.096],[44.99,0.152],[44.45,0.023],[44.69,0.008]];

const belowBand = [[2.44,-0.483],[2.30,-0.498],[3.19,-0.425],[3.62,-0.579],[2.63,-0.655],[2.51,-0.786],[3.31,-0.814],[20.04,-0.802],[28.39,-0.355],[29.84,-0.351],[31.09,-0.384],[31.72,-0.483],[33.18,-0.395],[33.69,-0.360],[34.40,-0.427],[34.98,-0.432],[35.02,-0.357],[36.39,-0.457],[37.58,-0.341],[38.35,-0.384],[39.45,-0.395],[39.92,-0.358],[41.36,-0.413],[41.32,-0.356],[43.35,-0.424],[44.21,-0.373],[36.57,-0.583],[33.05,-0.633],[29.87,-0.679],[30.49,-0.711],[39.59,-0.772],[34.31,-0.843]];

// ---------------- STYLE / BUILD ----------------
const SANS = '"Liberation Sans", Arial, Helvetica, sans-serif';
const GILL = 'Lato, "Open Sans", sans-serif';
const SERIF = '"Liberation Serif", "DejaVu Serif", serif';
const ANN_RED = '#c1290e';
const candColors = ['#000000','#ff2a1a','#1f3cff','#1f3cff','#1f3cff','#ff2a1a','#1f3cff','#ff2a1a','#1f3cff','#ff2a1a'];
const labelOffsets = [[32,0],[-37,0],[-32,11],[-22,-28],[26,20],[-33,5],[-33,4],[-32,-2],[28,12],[45,1]];

const toPts = arr => arr.map(p => ({x:p[0], y:p[1]}));
const stepPts = vals => binEdges.map((e,i)=>({x:e, y: vals[Math.min(i, vals.length-1)]}));
const dotStyle = {pointRadius:4, pointHoverRadius:4, pointBackgroundColor:'#000', pointBorderWidth:0, showLine:false, order:20};
const scatterSets = [erBandLowE, erSparseUpper, erSparseLower, erCore5to12, erCore12to20, erCore20to27, erCore27to36, erCore36to45, belowBand]
  .map(a => Object.assign({data: toPts(a)}, dotStyle));

const candPts = candX.map((x,i)=>({x, y:candY[i]}));
const datasets = [
  {data: candPts, pointRadius:15.5, pointBackgroundColor:'rgba(0,0,0,0)', pointBorderColor:'rgba(245,70,60,0.9)', pointBorderWidth:2, showLine:false, order:1},
  {data: candPts, pointRadius:2.8, pointBackgroundColor:'#000', pointBorderWidth:0, showLine:false, order:2},
  {data: stepPts(upperBound), showLine:true, stepped:'before', borderColor:'#4d4dff', borderWidth:3, pointRadius:0, order:3},
  {data: stepPts(lowerBound), showLine:true, stepped:'before', borderColor:'#4d4dff', borderWidth:3, pointRadius:0, order:3},
  ...thresholdEnergies.map(e => ({data:[{x:e,y:-1},{x:e,y:0.5}], showLine:true, borderColor:'#000', borderWidth:2.5, pointRadius:0, order:4})),
  {data:[{x:0,y:erCentroid},{x:45,y:erCentroid}], showLine:true, borderColor:'#ff1a1a', borderWidth:3, pointRadius:0, order:5},
  ...scatterSets
];

function isMult(v, m){ const q = v/m; return Math.abs(q - Math.round(q)) < 1e-6; }

function arrow(ctx, x0, y0, x1, y1, color, lw, head){
  const a = Math.atan2(y1-y0, x1-x0), c = Math.cos(a), s = Math.sin(a);
  ctx.strokeStyle = color; ctx.fillStyle = color; ctx.lineWidth = lw; ctx.lineCap='butt';
  ctx.beginPath(); ctx.moveTo(x0,y0); ctx.lineTo(x1 - c*head*0.8, y1 - s*head*0.8); ctx.stroke();
  const w = head*0.42;
  ctx.beginPath(); ctx.moveTo(x1,y1);
  ctx.lineTo(x1 - c*head - s*w, y1 - s*head + c*w);
  ctx.lineTo(x1 - c*head + s*w, y1 - s*head - c*w);
  ctx.closePath(); ctx.fill();
}
function fitFont(ctx, text, weight, family, targetW){
  ctx.font = `${weight} 100px ${family}`;
  const w = ctx.measureText(text).width;
  const size = 100*targetW/w;
  ctx.font = `${weight} ${size}px ${family}`;
  return size;
}

const overlay = {
  id:'overlay',
  afterDatasetsDraw(chart){
    const {ctx, chartArea:a, scales:{x, y}} = chart;
    ctx.save();
    ctx.strokeStyle = '#000'; ctx.lineWidth = 2;
    x.ticks.forEach(t => {
      const px = x.getPixelForValue(t.value), L = isMult(t.value,5) ? 24 : 12;
      ctx.beginPath(); ctx.moveTo(px, a.bottom); ctx.lineTo(px, a.bottom - L); ctx.stroke();
    });
    y.ticks.forEach(t => {
      const py = y.getPixelForValue(t.value), L = isMult(t.value,0.2) ? 37 : 18;
      ctx.beginPath(); ctx.moveTo(a.left, py); ctx.lineTo(a.left + L, py); ctx.stroke();
    });
    ctx.lineWidth = 2.5;
    ctx.strokeRect(a.left, a.top, a.right - a.left, a.bottom - a.top);
    ctx.font = `48px ${SERIF}`; ctx.textAlign = 'center'; ctx.textBaseline = 'middle';
    candX.forEach((cx, i) => {
      const px = x.getPixelForValue(cx), py = y.getPixelForValue(candY[i]);
      ctx.fillStyle = candColors[i];
      ctx.fillText(candLabels[i], px + labelOffsets[i][0], py + labelOffsets[i][1] + 2);
    });
    ctx.restore();
  },
  afterDraw(chart){
    const {ctx, chartArea:a, scales:{x, y}} = chart;
    ctx.save();
    ctx.save();
    ctx.translate(47, 562); ctx.rotate(-Math.PI/2);
    ctx.fillStyle = '#000'; ctx.textBaseline = 'alphabetic'; ctx.textAlign = 'left';
    const f1 = `37px ${SANS}`, f2 = `24px ${SANS}`;
    ctx.font = f1; const w1 = ctx.measureText('ΔLog').width, w3 = ctx.measureText('(S2/S1)').width;
    ctx.font = f2; const w2 = ctx.measureText('10').width;
    let sx = -(w1 + w2 + w3)/2;
    ctx.font = f1; ctx.fillText('ΔLog', sx, 0); sx += w1;
    ctx.font = f2; ctx.fillText('10', sx, 8); sx += w2;
    ctx.font = f1; ctx.fillText('(S2/S1)', sx, 0);
    ctx.restore();
    ctx.fillStyle = '#000'; ctx.textAlign = 'center'; ctx.textBaseline = 'alphabetic';
    fitFont(ctx, 'Nuclear Recoil Equivalent Energy (keV)', 'normal', SANS, 697);
    ctx.fillText('Nuclear Recoil Equivalent Energy (keV)', 751, 1092);
    ctx.fillStyle = ANN_RED;
    fitFont(ctx, 'ER band', 'bold', GILL, 197);
    ctx.fillText('ER band', 311.5, 71);
    arrow(ctx, 337, 87, 465, 379, ANN_RED, 4, 26);
    ctx.fillStyle = '#fff'; ctx.fillRect(829, 11, 535, 83);
    ctx.strokeStyle = '#000'; ctx.lineWidth = 2; ctx.strokeRect(829, 11, 535, 83);
    ctx.fillStyle = '#000';
    fitFont(ctx, '58 live days / 5.4 kg target', 'normal', GILL, 510);
    ctx.fillText('58 live days / 5.4 kg target', 1098, 68);
    ctx.fillStyle = '#fff'; ctx.fillRect(905, 358, 384, 81);
    ctx.strokeStyle = '#000'; ctx.lineWidth = 2.5; ctx.strokeRect(905, 358, 384, 81);
    ctx.fillStyle = '#000';
    fitFont(ctx, '~ 1 cts/kg/keV/day', 'normal', GILL, 357);
    ctx.fillText('~ 1 cts/kg/keV/day', 1097, 417);
    const ex0 = x.getPixelForValue(28.95), ex1 = x.getPixelForValue(44.86);
    const ey0 = y.getPixelForValue(-0.331), ey1 = y.getPixelForValue(-0.542);
    ctx.strokeStyle = ANN_RED; ctx.lineWidth = 4;
    ctx.beginPath(); ctx.ellipse((ex0+ex1)/2, (ey0+ey1)/2, (ex1-ex0)/2, (ey1-ey0)/2, 0, 0, Math.PI*2); ctx.stroke();
    arrow(ctx, 1335, 1110, 1234, 727, ANN_RED, 4, 28);
    arrow(ctx, 289, 1110, 413, 894, '#0d1fa6', 4, 28);
    ctx.restore();
  }
};

new Chart(document.getElementById('c'), {
  type: 'scatter',
  data: { datasets },
  options: {
    responsive: false, devicePixelRatio: 1, animation: false, events: [],
    layout: { padding: { left: 0, top: 124, right: 25, bottom: 0 } },
    plugins: { legend: { display: false }, tooltip: { enabled: false } },
    scales: {
      x: {
        type: 'linear', min: 0, max: 45,
        grid: { display: false, drawTicks: false }, border: { display: false },
        ticks: { stepSize: 1, autoSkip: false, maxRotation: 0, padding: 8, color: '#000',
          font: { family: SANS, size: 36 },
          callback: v => xTickLabels.includes(Math.round(v)) && isMult(v,5) ? String(Math.round(v)) : '' },
        afterFit: s => { s.height = 111; }
      },
      y: {
        type: 'linear', min: -1, max: 0.5,
        grid: { display: false, drawTicks: false }, border: { display: false },
        ticks: { stepSize: 0.05, autoSkip: false, padding: 6, color: '#000',
          font: { family: SANS, size: 36 },
          callback: v => { const k = Math.round(v*10)/10; return (isMult(v,0.2) && yTickLabels.includes(k)) ? (k === 0 ? '0' : (k === -1 ? '-1' : k.toFixed(1))) : ''; } },
        afterFit: s => { s.width = 142; }
      }
    }
  },
  plugins: [overlay]
});
</script>
</body></html>
